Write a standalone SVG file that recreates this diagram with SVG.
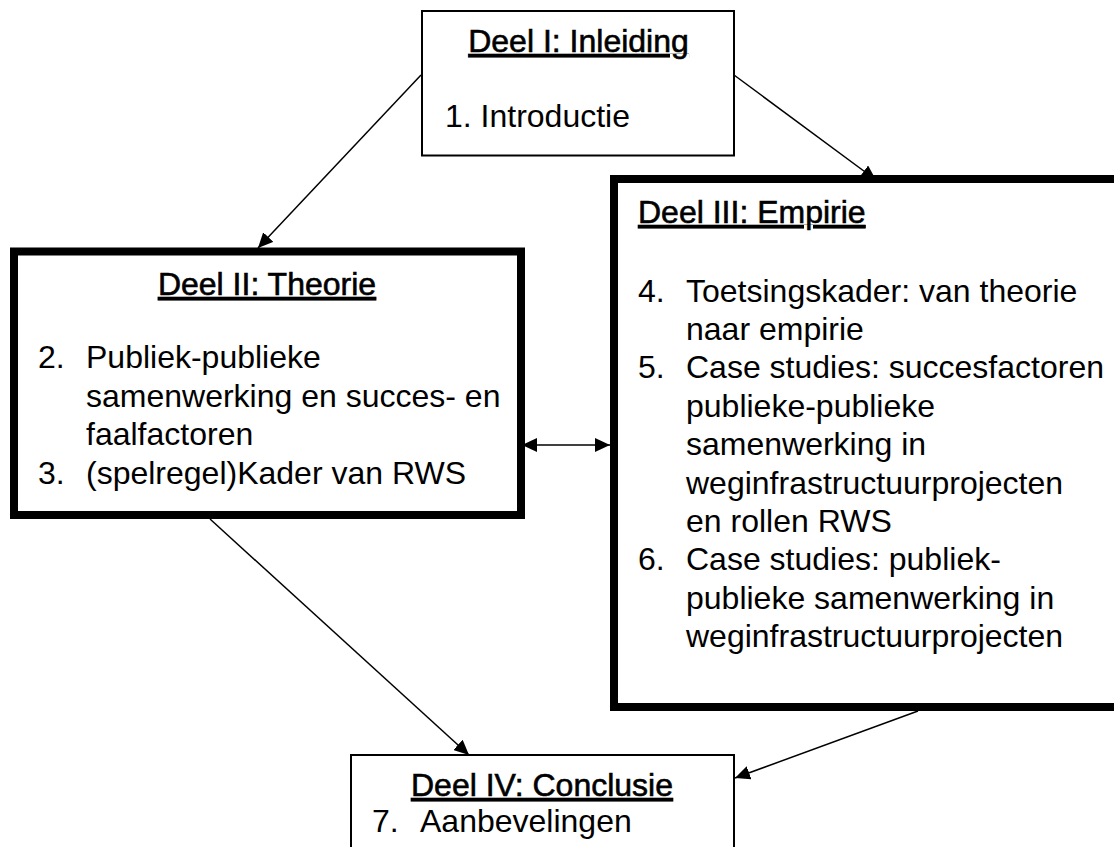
<svg xmlns="http://www.w3.org/2000/svg" width="1114" height="847" viewBox="0 0 1114 847">
<style>
  .box { fill: #ffffff; stroke: #000000; }
  .thin { stroke-width: 2; }
  .thick { stroke-width: 8; }
  .t { font-family: "Liberation Sans", Arial, sans-serif; font-size: 32px; fill: #000000; }
  .title { text-decoration: underline; stroke: #000000; stroke-width: 0.6; }
  .mid { text-anchor: middle; }
  .conn { stroke: #000000; stroke-width: 1.5; fill: none; }
</style>
<defs>
  <marker id="ah" markerUnits="userSpaceOnUse" markerWidth="16" markerHeight="14" refX="15" refY="7" orient="auto-start-reverse" viewBox="0 0 16 14">
    <path d="M0,0 L15,7 L0,14 Z" fill="#000000"/>
  </marker>
</defs>

<g id="connectors">
  <line class="conn" x1="421" y1="75" x2="258" y2="248" marker-end="url(#ah)"/>
  <line class="conn" x1="734" y1="75" x2="876" y2="180" marker-end="url(#ah)"/>
  <line class="conn" x1="522" y1="445" x2="610" y2="445" marker-start="url(#ah)" marker-end="url(#ah)"/>
  <line class="conn" x1="210" y1="519" x2="469" y2="755" marker-end="url(#ah)"/>
  <line class="conn" x1="918" y1="711" x2="735" y2="778" marker-end="url(#ah)"/>
</g>

<g id="deel1">
  <rect class="box thin" x="422" y="11" width="312" height="144.5"/>
  <text class="t title mid" x="578.5" y="52">Deel I: Inleiding</text>
  <text class="t" x="445" y="127">1. Introductie</text>
</g>

<g id="deel2">
  <rect class="box thick" x="14" y="251.5" width="507" height="263.5"/>
  <text class="t title mid" x="267" y="295">Deel II: Theorie</text>
  <text class="t" x="38" y="368">2.</text>
  <text class="t" x="86" y="368">Publiek-publieke</text>
  <text class="t" x="86" y="406.5">samenwerking en succes- en</text>
  <text class="t" x="86" y="445">faalfactoren</text>
  <text class="t" x="38" y="483.5">3.</text>
  <text class="t" x="86" y="483.5">(spelregel)Kader van RWS</text>
</g>

<g id="deel3">
  <rect class="box thick" x="614" y="179" width="520" height="528"/>
  <text class="t title" x="638" y="223">Deel III: Empirie</text>
  <text class="t" x="638" y="301.5">4.</text>
  <text class="t" x="686" y="301.5">Toetsingskader: van theorie</text>
  <text class="t" x="686" y="339.9">naar empirie</text>
  <text class="t" x="638" y="378.3">5.</text>
  <text class="t" x="686" y="378.3">Case studies: succesfactoren</text>
  <text class="t" x="686" y="416.7">publieke-publieke</text>
  <text class="t" x="686" y="455.1">samenwerking in</text>
  <text class="t" x="686" y="493.5">weginfrastructuurprojecten</text>
  <text class="t" x="686" y="531.9">en rollen RWS</text>
  <text class="t" x="638" y="570.3">6.</text>
  <text class="t" x="686" y="570.3">Case studies: publiek-</text>
  <text class="t" x="686" y="608.7">publieke samenwerking in</text>
  <text class="t" x="686" y="647.1">weginfrastructuurprojecten</text>
</g>

<g id="deel4">
  <rect class="box thin" x="351" y="755" width="383" height="120"/>
  <text class="t title mid" x="542" y="796">Deel IV: Conclusie</text>
  <text class="t" x="372" y="832">7.</text>
  <text class="t" x="420" y="832">Aanbevelingen</text>
</g>
</svg>
